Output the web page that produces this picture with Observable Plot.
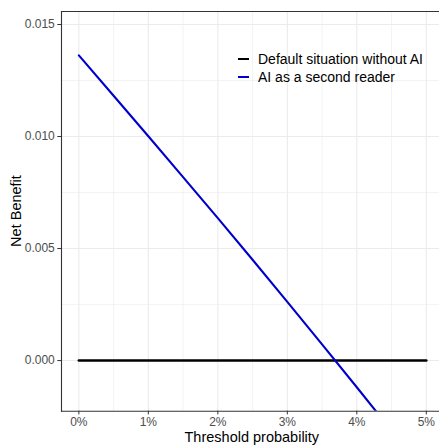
<!DOCTYPE html>
<html>
<head>
<meta charset="utf-8">
<script src="https://cdn.jsdelivr.net/npm/d3@7"></script>
<script src="https://cdn.jsdelivr.net/npm/@observablehq/plot@0.6"></script>
<style>
  body { margin: 0; background: #fff; font-family: "Liberation Sans", Arial, sans-serif; }
  #wrap { position: relative; width: 439px; height: 446px; overflow: hidden; }
  #wrap svg { position: absolute; left: 0; top: 0; }
  #wrap svg text { font-size: 12px !important; font-family: "Liberation Sans", Arial, sans-serif !important; }
  .lab { position: absolute; font-size: 14.5px; color: #000; white-space: nowrap; }
  .leg { position: absolute; font-size: 14px; color: #000; white-space: nowrap; line-height: 18px; }
  .key { position: absolute; height: 2.5px; width: 11px; }
</style>
</head>
<body>
<div id="wrap"></div>
<script>
// Data
const thresholds = [0, 0.005, 0.01, 0.015, 0.02, 0.025, 0.03, 0.035, 0.04, 0.045, 0.05];
const netBenefitAI = [0.01362, 0.01182, 0.01001, 0.00819, 0.00636, 0.00450, 0.00262, 0.00072, -0.00119, -0.00313, -0.00508];
const netBenefitDefault = [0, 0, 0, 0, 0, 0, 0, 0, 0, 0, 0];
const seriesNames = ["Default situation without AI", "AI as a second reader"];
const seriesColors = ["#000000", "#0000CD"];
const xTicks = [0, 0.01, 0.02, 0.03, 0.04, 0.05];
const xMinor = [0.005, 0.015, 0.025, 0.035, 0.045];
const yTicks = [0, 0.005, 0.010, 0.015];
const yMinor = [-0.0025, 0.0025, 0.0075, 0.0125];

const rows = [];
thresholds.forEach((t, i) => {
  rows.push({t, nb: netBenefitDefault[i], s: seriesNames[0]});
  rows.push({t, nb: netBenefitAI[i], s: seriesNames[1]});
});

const W = 439, H = 446;
const grid = "#EBEBEB";
const plot = Plot.plot({
  width: W, height: H,
  marginLeft: 61, marginRight: 0, marginTop: 11, marginBottom: 35.3,
  style: {fontFamily: "Liberation Sans, Arial, sans-serif", background: "#fff", fontSize: "12px"},
  x: {domain: [-0.0025, 0.0519]},
  y: {domain: [-0.00226, 0.01558]},
  color: {domain: seriesNames, range: seriesColors},
  marks: [
    Plot.ruleX(xMinor, {stroke: grid, strokeWidth: 0.6}),
    Plot.ruleY(yMinor, {stroke: grid, strokeWidth: 0.6, clip: true}),
    Plot.ruleX(xTicks, {stroke: grid, strokeWidth: 1.1}),
    Plot.ruleY(yTicks, {stroke: grid, strokeWidth: 1.1}),
    Plot.line(rows.filter(d => d.s === seriesNames[0]), {x: "t", y: "nb", stroke: "s", strokeWidth: 2.6, clip: true}),
    Plot.line(rows.filter(d => d.s === seriesNames[1]), {x: "t", y: "nb", stroke: "s", strokeWidth: 2.1, clip: true}),
    Plot.frame({anchor: "left", stroke: "#333333", strokeWidth: 1.1}),
    Plot.frame({anchor: "bottom", stroke: "#333333", strokeWidth: 1.1}),
    Plot.frame({anchor: "top", stroke: "#333333", strokeWidth: 1.1}),
    Plot.axisY({ticks: yTicks, tickFormat: d3.format(".3f"), tickSize: 3.7, tickPadding: 3,
      stroke: "#333333", fill: "#4D4D4D", label: null}),
    Plot.axisX({ticks: xTicks, tickFormat: d3.format(".0%"), tickSize: 3.7, tickPadding: 2.5,
      stroke: "#333333", fill: "#4D4D4D", label: null})
  ]
});
const wrap = document.getElementById("wrap");
wrap.appendChild(plot);

// Axis titles
const xt = document.createElement("div");
xt.className = "lab";
xt.textContent = "Threshold probability";
wrap.appendChild(xt);
xt.style.left = (252 - xt.offsetWidth / 2) + "px";
xt.style.top = (436.7 - xt.offsetHeight / 2) + "px";

const yt = document.createElement("div");
yt.className = "lab";
yt.textContent = "Net Benefit";
wrap.appendChild(yt);
yt.style.left = (16 - yt.offsetWidth / 2) + "px";
yt.style.top = (211 - yt.offsetHeight / 2) + "px";
yt.style.transform = "rotate(-90deg)";

// Legend
seriesNames.forEach((name, i) => {
  const cy = 59 + i * 18;
  const k = document.createElement("div");
  k.className = "key";
  k.style.background = seriesColors[i];
  k.style.left = "237.5px";
  k.style.top = (cy - 1.25) + "px";
  wrap.appendChild(k);
  const t = document.createElement("div");
  t.className = "leg";
  t.textContent = name;
  t.style.left = "258px";
  t.style.top = (cy - 9) + "px";
  wrap.appendChild(t);
});
</script>
</body>
</html>
